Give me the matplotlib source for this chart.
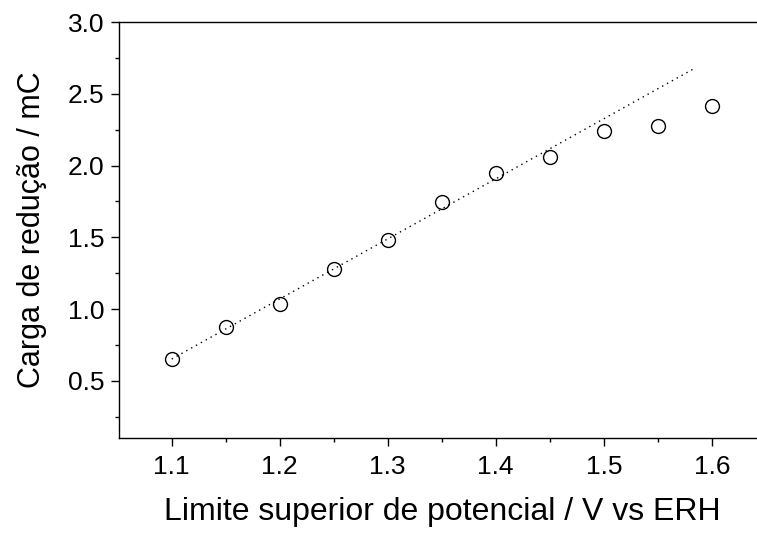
import numpy as np
import matplotlib
matplotlib.use("Agg")
import matplotlib.pyplot as plt
from matplotlib.ticker import MultipleLocator

plt.rcParams['font.family'] = ['Liberation Sans', 'DejaVu Sans']

# upper potential limit (V vs ERH) and reduction charge (mC)
potencial = [1.10, 1.15, 1.20, 1.25, 1.30, 1.35, 1.40, 1.45, 1.50, 1.55, 1.60]
carga = [0.653, 0.878, 1.036, 1.278, 1.482, 1.744, 1.951, 2.058, 2.239, 2.276, 2.417]

# linear trend through the low-potential points
ajuste_x = [1.10, 1.583]
ajuste_y = [0.653, 2.673]

fig = plt.figure(figsize=(7.57, 5.38), dpi=100)
# the plot frame runs slightly past the right edge of the canvas
ax = fig.add_axes([0.1576, 0.1859, 0.854, 0.7732])

ax.plot(ajuste_x, ajuste_y, color='black', lw=1.0, linestyle=(0, (1, 3)))
ax.plot(potencial, carga, 'o', ms=10, mfc='none', mec='black', mew=1.0)

ax.set_xlim(1.0515, 1.65)
ax.set_ylim(0.103, 3.0)
ax.xaxis.set_major_locator(MultipleLocator(0.1))
ax.xaxis.set_minor_locator(MultipleLocator(0.05))
ax.yaxis.set_major_locator(MultipleLocator(0.5))
ax.yaxis.set_minor_locator(MultipleLocator(0.25))

ax.spines['right'].set_visible(False)
for s in ['left', 'bottom', 'top']:
    ax.spines[s].set_linewidth(1.0)

ax.tick_params(which='major', direction='out', length=6, width=1.0, labelsize=19, pad=5)
ax.tick_params(which='minor', direction='out', length=3, width=1.0)
ax.tick_params(axis='x', which='both', top=False)
ax.tick_params(axis='x', which='major', pad=6)

ax.set_xlabel('Limite superior de potencial / V vs ERH', fontsize=23, labelpad=13)
ax.set_ylabel('Carga de redução / mC', fontsize=22, labelpad=15)

fig.savefig('out.png', dpi=100)
